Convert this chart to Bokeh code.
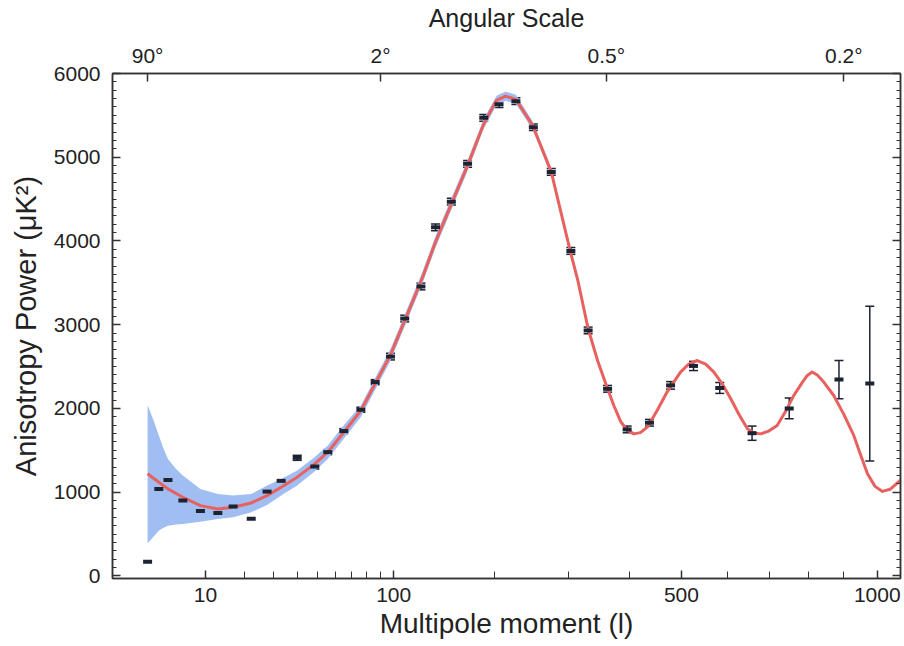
import numpy as np
from bokeh.plotting import figure
from bokeh.models import (Range1d, LinearAxis, FixedTicker, SingleIntervalTicker,
                          CustomJSTickFormatter, ColumnDataSource, Whisker, TeeHead)
from bokeh.embed import file_html
from bokeh.resources import INLINE

# ---------------- data ----------------
# theory curve (multipole l, power in uK^2)
curve_l = [2, 3, 4, 6, 9, 12.7, 16.6, 22, 27.5, 33, 40, 48.6, 55.6, 65, 76, 86, 97.5,
           109, 124, 136.5, 152, 169, 187, 202, 213, 226, 248, 274, 302, 314, 330,
           345, 360, 373, 385, 396, 408, 420, 433, 452, 471, 498, 515, 533, 551, 569,
           588, 607, 627, 646, 662, 678, 698, 719, 740, 762, 785, 798, 811, 825, 843,
           871, 900, 929, 950, 970, 993, 1016, 1040, 1075]
curve_p = [1220, 1120, 1040, 940, 840, 800, 821, 872, 960, 1060, 1180, 1339, 1478, 1717,
           1976, 2295, 2640, 3050, 3550, 3990, 4440, 4900, 5400, 5680, 5730, 5690, 5380,
           4825, 3881, 3520, 2952, 2580, 2276, 2030, 1838, 1745, 1697, 1712, 1777, 1980,
           2196, 2435, 2530, 2573, 2530, 2435, 2290, 2117, 1920, 1758, 1708, 1697, 1730,
           1797, 1960, 2156, 2315, 2395, 2435, 2400, 2315, 2155, 1930, 1678, 1440, 1220,
           1070, 1010, 1035, 1150]

# cosmic-variance band
band_l = [2, 2.5, 3, 3.5, 4, 5, 6, 9, 12.7, 16.6, 22, 27.5, 33, 40, 48.6, 55.6, 65, 76,
          86, 97.5, 109, 124, 136.5, 152, 169, 187, 202, 213, 226, 248, 274, 302, 314, 330]
band_hi = [2040, 1860, 1677, 1520, 1398, 1280, 1199, 1040, 980, 960, 980, 1079, 1159,
           1259, 1420, 1557, 1800, 2035, 2365, 2710, 3120, 3620, 4060, 4510, 4965, 5460,
           5735, 5785, 5745, 5430, 4870, 3925, 3560, 2990]
band_lo = [390, 470, 541, 575, 601, 615, 621, 649, 681, 701, 761, 849, 960, 1079, 1250,
           1398, 1640, 1897, 2225, 2570, 2980, 3480, 3920, 4370, 4835, 5340, 5625, 5675,
           5635, 5330, 4780, 3840, 3480, 2915]

# measured band powers
data_l = [2, 3, 4, 6, 9, 12.7, 16.6, 22, 27.5, 33, 40, 48.6, 55.6, 65, 76, 86, 97.5,
          109, 123, 136.5, 152, 169, 187, 205, 226, 249, 274, 303, 330, 362, 396, 437,
          478, 525, 582, 657, 750, 886, 977]
data_p = [171, 1040, 1147, 900, 777, 753, 829, 682, 1008, 1136, 1411, 1307, 1479, 1730,
          1985, 2315, 2620, 3074, 3457, 4163, 4470, 4921, 5471, 5634, 5670, 5358, 4825,
          3881, 2932, 2235, 1750, 1830, 2276, 2508, 2245, 1705, 2001, 2345, 2297]
data_err = [0, 0, 0, 0, 0, 0, 0, 0, 0, 0, 30, 30, 30, 30, 30, 30, 40, 40, 40, 40, 40,
            40, 40, 40, 40, 40, 40, 40, 40, 40, 40, 40, 45, 55, 65, 85, 123, 228, 923]

# axis ticks
bottom_ticks = [10, 100, 500, 1000]
bottom_minor = [20, 30, 40, 50, 60, 70, 80, 90, 200, 300, 400, 600, 700, 800, 900]
angle_ticks = [90, 2, 0.5, 0.2]   # degrees, l ~ 180 / angle
l_range = (0.26, 1073)

# ---------------- x scale of the original figure (l ** 0.41) ----------------
PW = 0.41
def fx(l):
    return np.asarray(l, dtype=float) ** PW

FONT = "Liberation Sans"
TXT = "#222222"

p = figure(width=904, height=646, output_backend="svg", toolbar_location=None,
           x_range=Range1d(*fx(l_range)), y_range=Range1d(-30, 6000),
           min_border_left=112, min_border_right=4, min_border_top=73,
           min_border_bottom=68, x_axis_location=None, y_axis_location=None)
p.grid.visible = False
p.outline_line_color = "#333333"
p.outline_line_width = 1.5
p.background_fill_color = "white"
p.border_fill_color = "white"

# band
p.varea(x=fx(band_l), y1=band_lo, y2=band_hi, fill_color="#a0bef2", fill_alpha=1.0)
# theory curve
p.line(fx(curve_l), curve_p, line_color="#e8615e", line_width=3, line_join="round")

# error bars
err_idx = [i for i, e in enumerate(data_err) if e > 0]
src_err = ColumnDataSource(dict(
    x=fx([data_l[i] for i in err_idx]),
    upper=[data_p[i] + data_err[i] for i in err_idx],
    lower=[data_p[i] - data_err[i] for i in err_idx]))
wh = Whisker(base="x", upper="upper", lower="lower", source=src_err,
             dimension="height", line_color="#1c2333", line_width=1.5,
             upper_head=TeeHead(size=9, line_color="#1c2333", line_width=1.5),
             lower_head=TeeHead(size=9, line_color="#1c2333", line_width=1.5))
p.add_layout(wh)
# data points
p.scatter(fx(data_l), data_p, marker="dash", size=9, line_width=4,
          line_color="#1c2333")

# ---------------- axes ----------------
bx_formatter = CustomJSTickFormatter(args=dict(pw=PW),
    code="return String(Math.round(Math.pow(tick, 1/pw)));")
ang_formatter = CustomJSTickFormatter(args=dict(pw=PW),
    code="const a = 180/Math.pow(tick, 1/pw); return (Math.round(a*10)/10) + '\u00b0';")

def style(ax, fs="21px", ts="25px"):
    ax.axis_line_color = "#333333"
    ax.axis_line_width = 1.5
    ax.major_tick_in = 8
    ax.major_tick_out = 0
    ax.minor_tick_in = 4
    ax.minor_tick_out = 0
    ax.major_tick_line_color = "#333333"
    ax.minor_tick_line_color = "#333333"
    ax.major_tick_line_width = 1.5
    ax.major_label_text_font = FONT
    ax.major_label_text_font_size = fs
    ax.major_label_text_color = TXT
    ax.axis_label_text_font = FONT
    ax.axis_label_text_font_size = ts
    ax.axis_label_text_font_style = "normal"
    ax.axis_label_text_color = TXT

bottom = LinearAxis(ticker=FixedTicker(ticks=list(fx(bottom_ticks)),
                                       minor_ticks=list(fx(bottom_minor))),
                    formatter=bx_formatter, axis_label="Multipole moment (l)")
style(bottom, ts="28px")
bottom.major_label_standoff = 9
bottom.axis_label_standoff = 3
bottom.minor_tick_in = 7
p.add_layout(bottom, "below")

top = LinearAxis(ticker=FixedTicker(ticks=list(fx([180 / a for a in angle_ticks])),
                                    minor_ticks=[]),
                 formatter=ang_formatter, axis_label="Angular Scale")
style(top, ts="25px")
top.major_label_standoff = 7
top.axis_label_standoff = 9
p.add_layout(top, "above")

left = LinearAxis(ticker=SingleIntervalTicker(interval=1000, num_minor_ticks=10),
                  axis_label="Anisotropy Power (\u03bcK\u00b2)")
style(left, ts="29px")
left.major_label_standoff = 12
left.axis_label_standoff = 9
p.add_layout(left, "left")

right = LinearAxis(ticker=SingleIntervalTicker(interval=1000, num_minor_ticks=10))
style(right)
right.major_label_text_font_size = "1px"
right.major_label_text_color = None
right.major_label_standoff = 0
p.add_layout(right, "right")

open("out.html", "w").write(file_html(p, INLINE))
